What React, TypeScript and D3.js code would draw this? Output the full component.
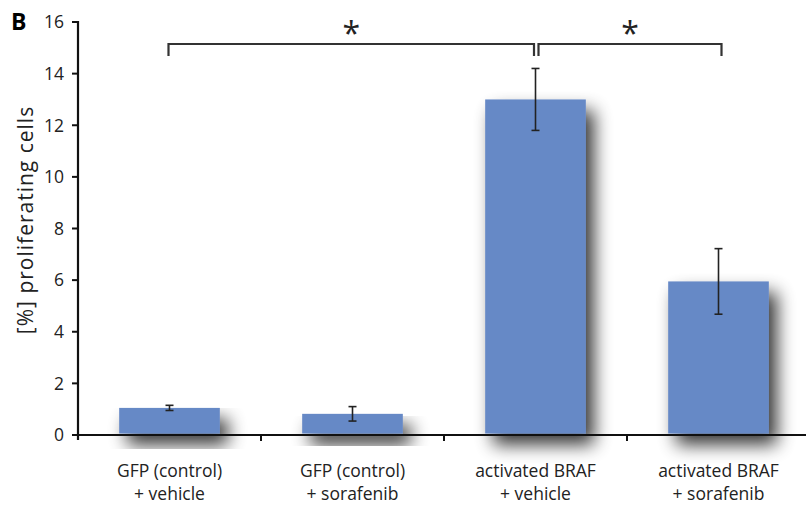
import React from "react";
import * as d3 from "d3";

const categories = ["GFP (control)|+ vehicle", "GFP (control)|+ sorafenib", "activated BRAF|+ vehicle", "activated BRAF|+ sorafenib"];
const values = [1.05, 0.82, 13.0, 5.95];
const errors = [0.1, 0.28, 1.2, 1.27];
const yTicks = [0, 2, 4, 6, 8, 10, 12, 14, 16];
const brackets = [
  { from: 0, to: 2, label: "*" },
  { from: 2, to: 3, label: "*" },
];

const W = 806;
const H = 517;
const margin = { left: 78, right: -10, top: 22, bottom: 82 };
const FONT = "'Open Sans', 'Noto Sans', sans-serif";

export default function App() {
  const x = d3
    .scaleBand<number>()
    .domain(d3.range(categories.length))
    .range([margin.left, margin.left + 4 * 183])
    .paddingInner(0.45)
    .paddingOuter(0.225);
  const y = d3.scaleLinear().domain([0, 16]).range([H - margin.bottom, margin.top]);
  const bw = x.bandwidth();
  const step = x.step();
  const x0 = margin.left;
  const y0 = y(0);
  const cx = (i: number) => (x(i) as number) + bw / 2;
  const bracketY = 44;
  const bracketDrop = 12;

  return (
    <svg width={W} height={H} style={{ position: "absolute", left: 0, top: 0, background: "#fff" }}>
      <defs>
        <filter id="shadow" x="-40%" y="-40%" width="200%" height="200%">
          <feGaussianBlur in="SourceAlpha" stdDeviation="9" />
          <feOffset dx="8" dy="11" result="ob" />
          <feComponentTransfer>
            <feFuncA type="linear" slope="0.8" />
          </feComponentTransfer>
          <feMerge>
            <feMergeNode />
            <feMergeNode in="SourceGraphic" />
          </feMerge>
        </filter>
      </defs>
      <text x={11} y={30} fontFamily={FONT} fontWeight="bold" fontSize={23}>B</text>
      {/* bars */}
      {values.map((v, i) => (
        <rect key={i} x={x(i)} y={y(v)} width={bw} height={y0 - y(v) - 1.5} fill="#6689c6" filter="url(#shadow)" />
      ))}
      {/* error bars */}
      {values.map((v, i) => {
        const c = cx(i);
        const t = y(v + errors[i]);
        const b = y(v - errors[i]);
        return (
          <g key={i} stroke="#222" strokeWidth={1.6}>
            <line x1={c} x2={c} y1={t} y2={b} />
            <line x1={c - 4} x2={c + 4} y1={t} y2={t} />
            <line x1={c - 4} x2={c + 4} y1={b} y2={b} />
          </g>
        );
      })}
      {/* y axis */}
      <line x1={x0} x2={x0} y1={y(16) - 1} y2={y0 + 5} stroke="#111" strokeWidth={2.2} />
      {yTicks.map((t) => (
        <g key={t}>
          <line x1={x0 - 6} x2={x0} y1={y(t)} y2={y(t)} stroke="#111" strokeWidth={2} />
          <text x={x0 - 14} y={y(t)} dy="0.36em" textAnchor="end" fontFamily={FONT} fontSize={17.5} fill="#222">
            {t}
          </text>
        </g>
      ))}
      {/* x axis */}
      <line x1={x0 - 4} x2={W} y1={y0} y2={y0} stroke="#111" strokeWidth={2.2} />
      {d3.range(1, categories.length).map((i) => (
        <line key={i} x1={x0 + step * i} x2={x0 + step * i} y1={y0} y2={y0 + 6} stroke="#111" strokeWidth={2} />
      ))}
      {categories.map((c, i) => {
        const [l1, l2] = c.split("|");
        return (
          <text key={i} x={cx(i)} textAnchor="middle" fontFamily={FONT} fontSize={17.5} fill="#222">
            <tspan x={cx(i)} y={477}>{l1}</tspan>
            <tspan x={cx(i)} y={500}>{l2}</tspan>
          </text>
        );
      })}
      <text
        transform={`translate(33, 220) rotate(-90)`}
        textAnchor="middle"
        fontFamily={FONT}
        fontSize={21}
        letterSpacing={1}
        fill="#222"
      >
        [%] proliferating cells
      </text>
      {/* significance brackets */}
      {brackets.map((b, k) => {
        const xa = cx(b.from) + (k === 1 ? 3 : -1);
        const xb = cx(b.to) + (k === 0 ? -1.5 : 3);
        return (
          <g key={k}>
            <path
              d={`M${xa},${bracketY + bracketDrop} V${bracketY} H${xb} V${bracketY + bracketDrop}`}
              fill="none"
              stroke="#333"
              strokeWidth={2.2}
            />
            <text x={(xa + xb) / 2} y={bracketY + 1} textAnchor="middle" fontFamily={FONT} fontSize={32} fill="#222">
              {b.label}
            </text>
          </g>
        );
      })}
    </svg>
  );
}
